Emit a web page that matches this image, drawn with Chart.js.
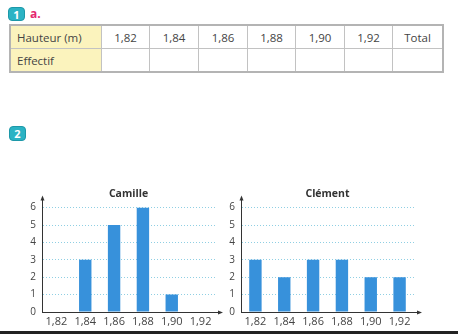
<!DOCTYPE html>
<html>
<head>
<meta charset="utf-8">
<script src="https://cdn.jsdelivr.net/npm/chart.js@4.4.1/dist/chart.umd.min.js"></script>
<style>
  html, body { margin: 0; padding: 0; background: #fff; }
  body { width: 458px; height: 334px; position: relative; overflow: hidden; font-family: "Open Sans", sans-serif; }
  .badge { position: absolute; width: 17px; height: 14px; background: #2bb3c4; border: 1px solid #1d98a8; border-radius: 4px;
           color: #fff; font-weight: bold; font-size: 11px; line-height: 13px; text-align: center; box-sizing: border-box; }
  #qa { position: absolute; left: 30px; top: 5px; color: #e4286f; font-weight: bold; font-size: 12px; }
  table { position: absolute; left: 9px; top: 24px; border-collapse: collapse; border: 2px solid #b4b4b4; table-layout: fixed; }
  td { border: 1px solid #c2c2c2; height: 22px; padding: 0; font-size: 11.5px; color: #444; text-align: center; }
  td.head { background: #fbf3bd; text-align: left; padding-left: 6px; }
  canvas { position: absolute; }
  #bottom { position: absolute; left: 0; top: 331px; width: 458px; height: 3px; background: #222; }
</style>
</head>
<body>
<div class="badge" style="left:8px;top:7px;">1</div>
<div id="qa">a.</div>
<table id="tbl"></table>
<div class="badge" style="left:9px;top:126px;height:15px;line-height:14px;">2</div>
<canvas id="camille" width="228" height="154" style="left:0;top:180px;"></canvas>
<canvas id="clement" width="238" height="154" style="left:220px;top:180px;"></canvas>
<div id="bottom"></div>
<script>
// hauteurs (m) and effectifs
const categories = ["1,82", "1,84", "1,86", "1,88", "1,90", "1,92"];
const camille = [0, 3, 5, 6, 1, 0];
const clement = [3, 2, 3, 3, 2, 2];
const yTicks = [0, 1, 2, 3, 4, 5, 6];

// table of question 1
const colWidths = [91, 48, 49, 49, 48, 49, 48, 50];
let tbl = document.getElementById("tbl");
let row1 = "<tr><td class='head' style='width:" + (colWidths[0] - 7) + "px'>Hauteur (m)</td>";
let row2 = "<tr><td class='head'>Effectif</td>";
categories.concat(["Total"]).forEach((c, i) => {
  row1 += "<td style='width:" + (colWidths[i + 1] - 1) + "px'>" + c + "</td>";
  row2 += "<td></td>";
});
tbl.innerHTML = row1 + "</tr>" + row2 + "</tr>";

// little arrows on the axes
const arrows = {
  id: "arrows",
  afterDraw(chart) {
    const ctx = chart.ctx;
    const a = chart.chartArea;
    ctx.save();
    ctx.strokeStyle = "#333";
    ctx.fillStyle = "#333";
    ctx.lineWidth = 1;
    ctx.beginPath();
    ctx.moveTo(a.left + 0.5, a.top);
    ctx.lineTo(a.left + 0.5, a.top - 8);
    ctx.moveTo(a.right, a.bottom + 0.5);
    ctx.lineTo(a.right + 4, a.bottom + 0.5);
    ctx.stroke();
    ctx.beginPath();
    ctx.moveTo(a.left + 0.5, a.top - 12);
    ctx.lineTo(a.left - 1.5, a.top - 7);
    ctx.lineTo(a.left + 2.5, a.top - 7);
    ctx.fill();
    ctx.beginPath();
    ctx.moveTo(a.right + 8, a.bottom + 0.5);
    ctx.lineTo(a.right + 3, a.bottom - 1.5);
    ctx.lineTo(a.right + 3, a.bottom + 2.5);
    ctx.fill();
    ctx.restore();
  }
};

function makeChart(id, title, values, yWidth, padRight) {
  let ctx = document.getElementById(id).getContext("2d");
  return new Chart(ctx, {
    type: "bar",
    data: {
      labels: categories,
      datasets: [{
        data: values,
        backgroundColor: "#3791db",
        borderWidth: 0,
        categoryPercentage: 1,
        barPercentage: 0.43
      }]
    },
    options: {
      responsive: false,
      animation: false,
      devicePixelRatio: 1,
      layout: { padding: { left: 0, right: padRight, top: 0, bottom: 0 } },
      plugins: {
        legend: { display: false },
        tooltip: { enabled: false },
        title: {
          display: true,
          text: title,
          fullSize: false,
          color: "#333",
          font: { family: "Open Sans", size: 10.5, weight: "bold" },
          padding: { top: 8, bottom: 7 }
        }
      },
      scales: {
        x: {
          offset: true,
          grid: { display: false, drawTicks: false },
          border: { display: true, color: "#333", width: 1 },
          ticks: { color: "#444", font: { family: "Open Sans", size: 11 }, padding: 3, maxRotation: 0, autoSkip: false },
          afterFit: (s) => { s.height = 22; }
        },
        y: {
          min: 0,
          max: 6,
          afterBuildTicks: (s) => { s.ticks = yTicks.map(v => ({ value: v })); },
          grid: { color: "#8fcfe3", drawTicks: false, lineWidth: 1 },
          border: { display: true, color: "#333", width: 1, dash: [1, 2] },
          ticks: { color: "#444", font: { family: "Open Sans", size: 10 }, padding: 6 },
          afterFit: (s) => { s.width = yWidth; }
        }
      }
    },
    plugins: [arrows]
  });
}

makeChart("camille", "Camille", camille, 42, 13);
makeChart("clement", "Clément", clement, 21, 44);
</script>
</body>
</html>
